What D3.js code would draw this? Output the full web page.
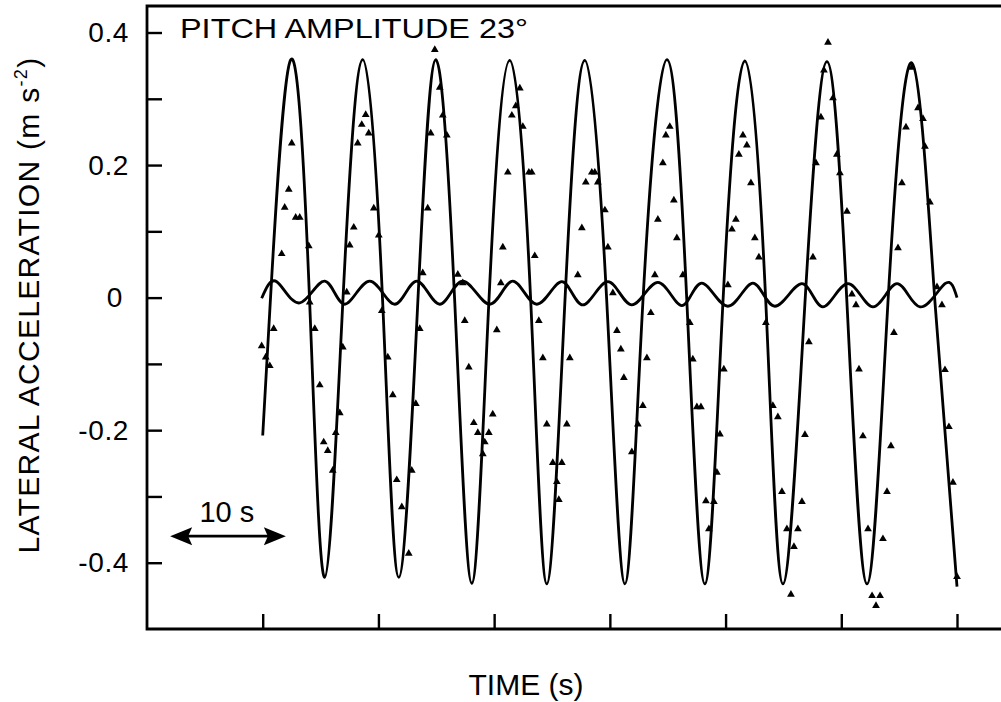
<!DOCTYPE html>
<html>
<head>
<meta charset="utf-8">
<script src="https://cdn.jsdelivr.net/npm/d3@7"></script>
<style>
  body { margin: 0; background: #fff; }
  svg { display: block; }
  .tick text { font-family: "Liberation Sans", Arial, sans-serif; }
</style>
</head>
<body>
<div id="vis"></div>
<script>
//###############################################################
// Lateral acceleration vs time, pitch amplitude 23 deg
// model curve (big sine), small curve, measured points
//###############################################################

// model curve: extremes + crossings (time s, m s-2)
const MODEL_T = [0.00, 0.65, 2.42, 4.06, 5.36, 6.92, 8.65, 10.37, 11.76, 13.40, 14.96,
  16.60, 18.07, 19.54, 21.35, 23.17, 24.55, 26.11, 27.84, 29.74, 31.30, 32.85,
  34.93, 36.66, 38.21, 39.77, 41.67, 43.48, 44.96, 46.86, 48.76, 50.49, 52.22,
  54.03, 56.11, 58.10, 60.00];
const MODEL_V = [-0.208, -0.008, 0.359, -0.008, -0.422, -0.008, 0.359, -0.008, -0.422, -0.008, 0.359,
  -0.008, -0.431, -0.008, 0.358, -0.008, -0.432, -0.008, 0.358, -0.008, -0.432, -0.008,
  0.359, -0.008, -0.432, -0.008, 0.357, -0.008, -0.432, -0.008, 0.356, -0.008, -0.432,
  -0.008, 0.354, -0.008, -0.436];

// small wiggle curve round zero
const SMALL_T = [-0.09, 1.21, 3.20, 5.36, 7.09, 9.25, 11.41, 13.31, 15.30, 17.29, 19.62,
  21.61, 23.69, 25.85, 27.66, 29.83, 31.90, 34.15, 36.22, 37.95, 40.20, 42.36,
  44.26, 46.60, 48.41, 50.58, 52.74, 54.81, 56.80, 58.96, 60.00];
const SMALL_V = [-0.001, 0.024, -0.008, 0.025, -0.010, 0.025, -0.010, 0.025, -0.010, 0.025, -0.010,
  0.025, -0.010, 0.024, -0.011, 0.024, -0.011, 0.023, -0.012, 0.022, -0.013, 0.022,
  -0.013, 0.021, -0.014, 0.021, -0.014, 0.021, -0.014, 0.021, 0.000];

// measured points [time, accel]
const MEASURED = [
  [-0.09,-0.073],[0.26,-0.090],[0.61,-0.103],[0.95,-0.047],[1.64,0.066],[1.90,0.136],
  [2.25,0.163],[2.51,0.233],[2.85,0.121],[3.20,0.121],[3.98,0.078],[4.06,-0.007],
  [4.50,-0.047],[4.93,-0.132],[5.27,-0.218],[5.62,-0.231],[6.05,-0.261],[6.31,-0.204],
  [6.66,-0.174],[6.92,-0.075],[7.26,0.008],[7.52,0.079],[7.87,0.106],[8.21,0.233],
  [8.56,0.261],[8.90,0.276],[9.16,0.248],[9.60,0.135],[10.03,0.094],[10.29,-0.020],
  [10.81,-0.090],[11.24,-0.147],[11.58,-0.275],[12.02,-0.316],[12.62,-0.386],[12.88,-0.261],
  [13.23,-0.160],[13.57,-0.047],[13.83,0.037],[14.26,0.135],[14.52,0.248],[14.87,0.374],
  [15.30,0.317],[15.56,0.275],[15.91,0.245],[16.86,0.035],[17.29,0.022],[17.46,-0.035],
  [17.81,-0.105],[18.24,-0.189],[18.59,-0.204],[19.02,-0.236],[19.19,-0.218],[19.54,-0.204],
  [19.88,-0.176],[20.23,-0.049],[20.58,0.022],[20.75,0.076],[21.18,0.189],[21.53,0.275],
  [21.87,0.289],[22.22,0.316],[22.48,0.258],[23.00,0.189],[23.25,0.189],[23.51,0.063],
  [23.86,-0.035],[24.21,-0.091],[24.55,-0.191],[25.07,-0.249],[25.85,-0.249],[25.42,-0.278],
  [25.59,-0.305],[26.28,-0.191],[26.54,-0.091],[27.23,0.034],[27.58,0.105],[27.92,0.174],
  [28.44,0.189],[28.70,0.189],[28.96,0.174],[29.57,0.132],[29.83,0.076],[30.26,0.007],
  [30.61,-0.050],[30.95,-0.078],[31.21,-0.121],[31.90,-0.233],[32.42,-0.191],[32.85,-0.163],
  [33.20,-0.091],[33.54,-0.023],[33.89,0.034],[34.15,0.118],[34.58,0.203],[34.84,0.245],
  [35.18,0.258],[35.53,0.147],[35.79,0.090],[36.31,0.034],[36.91,-0.038],[37.17,-0.093],
  [37.52,-0.165],[37.87,-0.165],[38.30,-0.307],[38.56,-0.349],[38.99,-0.308],[39.25,-0.264],
  [39.51,-0.206],[39.85,-0.108],[40.20,0.019],[40.55,0.103],[40.89,0.118],[41.15,0.216],
  [41.50,0.245],[41.84,0.230],[42.19,0.173],[42.53,0.090],[42.88,0.061],[43.48,-0.038],
  [44.09,-0.163],[44.52,-0.180],[44.87,-0.293],[45.30,-0.349],[45.65,-0.448],[45.91,-0.376],
  [46.25,-0.349],[46.60,-0.308],[46.86,-0.207],[47.20,-0.067],[47.55,0.061],[47.81,0.203],
  [48.24,0.272],[48.50,0.343],[48.85,0.385],[49.28,0.301],[49.62,0.216],[49.88,0.188],
  [50.49,0.130],[50.92,0.005],[51.27,-0.011],[51.53,-0.108],[51.87,-0.209],[52.31,-0.349],
  [52.66,-0.450],[53.00,-0.465],[53.35,-0.450],[53.60,-0.364],[53.95,-0.293],[54.29,-0.224],
  [54.55,-0.053],[54.90,0.075],[55.24,0.173],[55.59,0.257],[56.11,0.347],[56.63,0.286],
  [57.06,0.270],[57.23,0.228],[57.66,0.144],[58.27,0.016],[58.70,-0.011],[58.96,-0.109],
  [59.30,-0.195],[59.65,-0.279],[60.00,-0.421]
];

const X_TICKS = [0, 10, 20, 30, 40, 50, 60];
const Y_TICKS = [-0.4, -0.3, -0.2, -0.1, 0, 0.1, 0.2, 0.3, 0.4];
const Y_LABELS = ["-0.4", "", "-0.2", "", "0", "", "0.2", "", "0.4"];

const FRAME_WIDTH = 1001;
const FRAME_HEIGHT = 702;
const PLOT = {left: 147, right: 957, top: 6, bottom: 629};
const FONT = '"Liberation Sans", Arial, Helvetica, sans-serif';

const FRAME = d3.select("#vis")
  .append("svg")
    .attr("width", FRAME_WIDTH)
    .attr("height", FRAME_HEIGHT);

const X_SCALE = d3.scaleLinear()
  .domain([-10, 60])
  .range([PLOT.left, PLOT.right]);
const Y_SCALE = d3.scaleLinear()
  .domain([-0.5, 0.44])
  .range([PLOT.bottom, PLOT.top]);

// frame (open on the right side)
FRAME.append("path")
  .attr("d", `M${FRAME_WIDTH},${PLOT.top} H${PLOT.left} V${PLOT.bottom} H${FRAME_WIDTH}`)
  .attr("fill", "none")
  .attr("stroke", "#000")
  .attr("stroke-width", 2.8);

// y axis, ticks pointing inward
const yAxis = FRAME.append("g")
  .attr("transform", `translate(${PLOT.left},0)`)
  .call(d3.axisLeft(Y_SCALE)
    .tickValues(Y_TICKS)
    .tickSize(-15)
    .tickPadding(18)
    .tickFormat((d, i) => Y_LABELS[i]));
yAxis.select(".domain").remove();
yAxis.selectAll(".tick line").attr("stroke", "#000").attr("stroke-width", 2.4);
yAxis.selectAll(".tick text")
  .attr("font-size", 28)
  .attr("letter-spacing", 0.6)
  .attr("fill", "#000");
// the zero label sits a little left in the original
yAxis.selectAll(".tick text").filter(d => d === 0).attr("dx", -6);

// x axis, ticks only
const xAxis = FRAME.append("g")
  .attr("transform", `translate(0,${PLOT.bottom})`)
  .call(d3.axisBottom(X_SCALE)
    .tickValues(X_TICKS)
    .tickSize(-15)
    .tickFormat(""));
xAxis.select(".domain").remove();
xAxis.selectAll(".tick line").attr("stroke", "#000").attr("stroke-width", 2.4);

// curves
const line = d3.line()
  .x(d => X_SCALE(d[0]))
  .y(d => Y_SCALE(d[1]))
  .curve(d3.curveNatural);

FRAME.append("path")
  .datum(MODEL_T.map((t, i) => [t, MODEL_V[i]]))
  .attr("d", line)
  .attr("fill", "none")
  .attr("stroke", "#000")
  .attr("stroke-width", 2.8);

FRAME.append("path")
  .datum(SMALL_T.map((t, i) => [t, SMALL_V[i]]))
  .attr("d", line)
  .attr("fill", "none")
  .attr("stroke", "#000")
  .attr("stroke-width", 2.8);

// measured points as small filled triangles
FRAME.selectAll(".pt")
  .data(MEASURED)
  .enter()
  .append("path")
    .attr("class", "pt")
    .attr("d", d3.symbol(d3.symbolTriangle, 26))
    .attr("transform", d => `translate(${X_SCALE(d[0])},${Y_SCALE(d[1])})`)
    .attr("fill", "#000");

// title inside plot
FRAME.append("text")
  .attr("x", 180)
  .attr("y", 38)
  .attr("font-family", FONT)
  .attr("font-size", 27)
  .attr("textLength", 348)
  .attr("lengthAdjust", "spacingAndGlyphs")
  .text("PITCH AMPLITUDE 23°");

// y axis title
const yt = FRAME.append("text")
  .attr("transform", "translate(39,305) rotate(-90)")
  .attr("text-anchor", "middle")
  .attr("font-family", FONT)
  .attr("font-size", 30)
  .attr("letter-spacing", 1.3);
yt.append("tspan").text("LATERAL ACCELERATION (m s");
yt.append("tspan").attr("font-size", 18).attr("dy", -12).text("-2");
yt.append("tspan").attr("dy", 12).text(")");

// x axis title
FRAME.append("text")
  .attr("x", 526)
  .attr("y", 695)
  .attr("text-anchor", "middle")
  .attr("font-family", FONT)
  .attr("font-size", 30)
  .text("TIME (s)");

// 10 s scale arrow
const A0 = X_SCALE(-8), A1 = X_SCALE(2), AY = Y_SCALE(-0.36);
FRAME.append("line")
  .attr("x1", A0 + 10).attr("x2", A1 - 10)
  .attr("y1", AY).attr("y2", AY)
  .attr("stroke", "#000")
  .attr("stroke-width", 2.8);
FRAME.append("path")
  .attr("d", `M${A0},${AY} L${A0 + 22},${AY - 9} L${A0 + 18},${AY} L${A0 + 22},${AY + 9} Z`)
  .attr("fill", "#000");
FRAME.append("path")
  .attr("d", `M${A1},${AY} L${A1 - 22},${AY - 9} L${A1 - 18},${AY} L${A1 - 22},${AY + 9} Z`)
  .attr("fill", "#000");
FRAME.append("text")
  .attr("x", X_SCALE(-3.1))
  .attr("y", 522)
  .attr("text-anchor", "middle")
  .attr("font-family", FONT)
  .attr("font-size", 29)
  .text("10 s");
</script>
</body>
</html>
